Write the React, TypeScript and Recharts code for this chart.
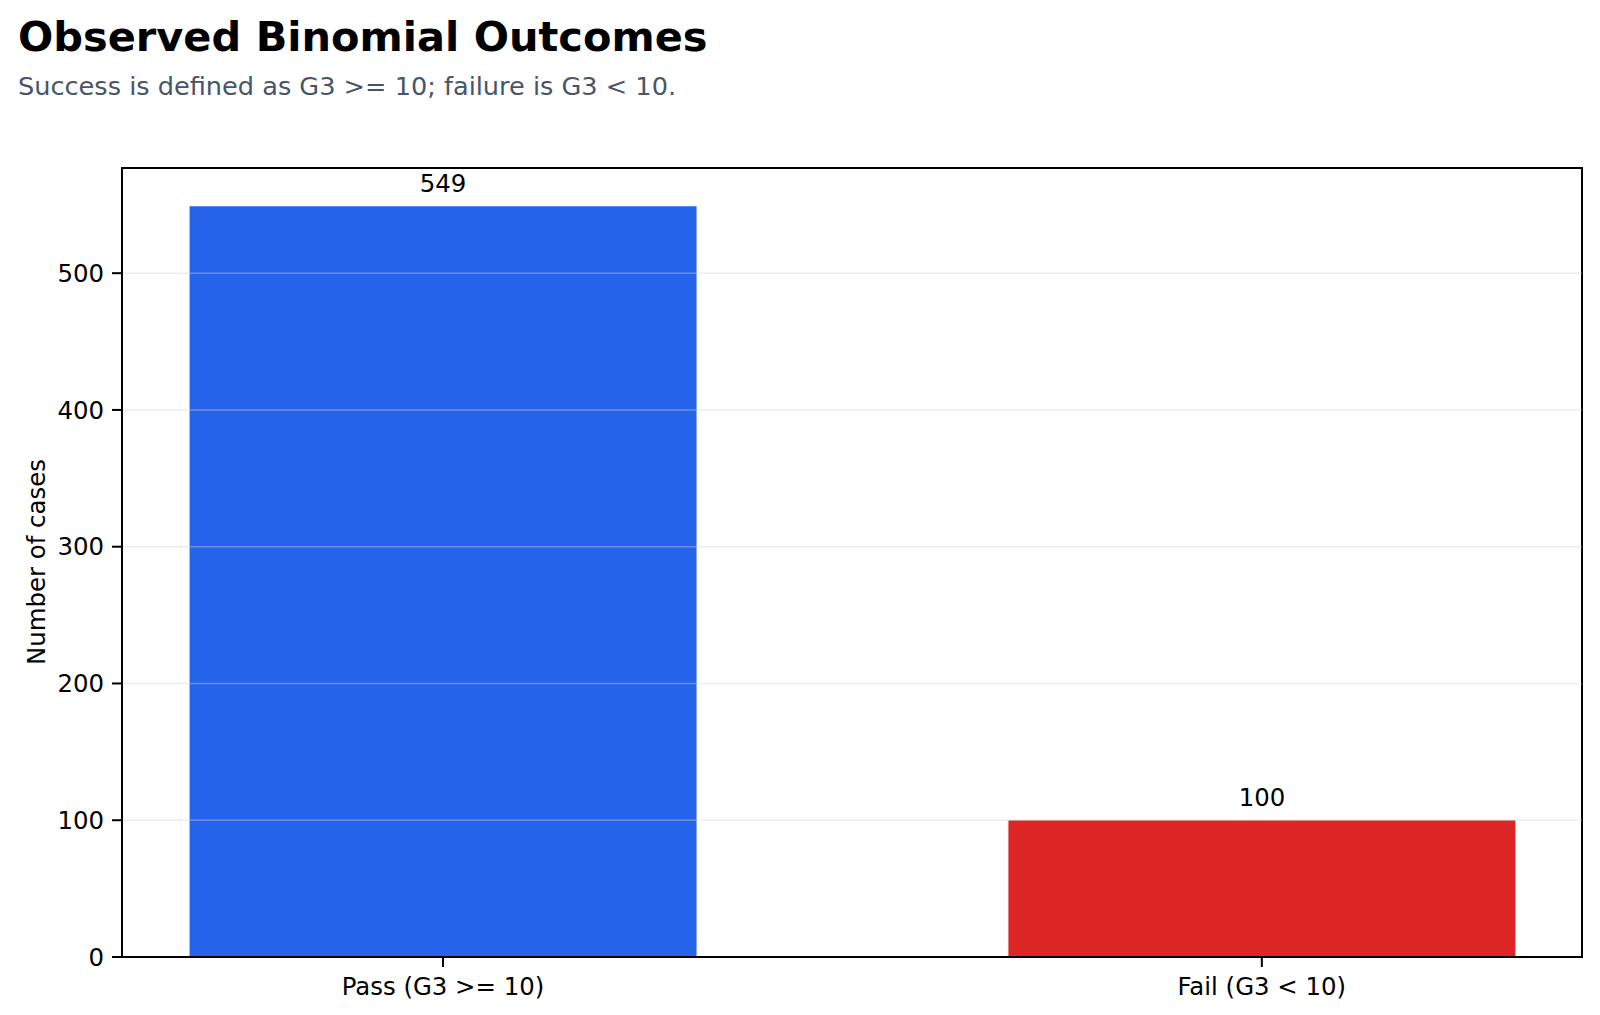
import { Bar, BarChart, Cell, LabelList, ReferenceArea, ReferenceLine, XAxis, YAxis } from 'recharts'

const categories = ['Pass (G3 >= 10)', 'Fail (G3 < 10)']
const counts = [549, 100]
const barColors = ['#2563eb', '#dc2626']
const yTicks = [0, 100, 200, 300, 400, 500]
const gridTicks = [100, 200, 300, 400, 500]

const X_DOMAIN: [number, number] = [-0.392, 1.391]
const Y_DOMAIN: [number, number] = [0, 576.9]

const data = categories.map((label, i) => ({ idx: i, label, count: counts[i], color: barColors[i] }))

const FONT = '"DejaVu Sans", sans-serif'
const tickStyle = { fontSize: 24.4, fill: '#000', fontFamily: FONT }

export default function App() {
  return (
    <div style={{ position: 'absolute', left: 0, top: 0, width: 1600, height: 1015, background: '#fff' }}>
      <BarChart
        width={1600}
        height={1015}
        data={data}
        margin={{ top: 168, right: 18, bottom: 0, left: 22 }}
      >
        <XAxis
          type="number"
          dataKey="idx"
          domain={X_DOMAIN}
          ticks={[0, 1]}
          tickFormatter={(v: number) => categories[v] ?? ''}
          height={58}
          tick={tickStyle}
          tickSize={10}
          tickMargin={11}
          tickLine={{ stroke: '#000', strokeWidth: 2 }}
          axisLine={{ stroke: '#000', strokeWidth: 2 }}
          allowDataOverflow
        />
        <YAxis
          domain={Y_DOMAIN}
          ticks={yTicks}
          width={100}
          tick={tickStyle}
          tickSize={10}
          tickMargin={8}
          tickLine={{ stroke: '#000', strokeWidth: 2 }}
          axisLine={{ stroke: '#000', strokeWidth: 2 }}
          allowDataOverflow
        />
        <Bar dataKey="count" barSize={507} isAnimationActive={false}>
          {data.map((d) => (
            <Cell key={d.label} fill={d.color} />
          ))}
          <LabelList dataKey="count" position="top" offset={14} style={{ fontSize: 24.4, fill: '#000', fontFamily: FONT }} />
        </Bar>
        {gridTicks.map((t) => (
          <ReferenceLine key={t} y={t} stroke="#d1d5db" strokeOpacity={0.4} strokeWidth={1.5} />
        ))}
        <ReferenceArea
          x1={X_DOMAIN[0]}
          x2={X_DOMAIN[1]}
          y1={Y_DOMAIN[0]}
          y2={Y_DOMAIN[1]}
          fill="none"
          fillOpacity={0}
          stroke="#000"
          strokeWidth={2}
          strokeOpacity={1}
        />
      </BarChart>
      <svg width={1600} height={1015} style={{ position: 'absolute', left: 0, top: 0, pointerEvents: 'none' }}>
        <text x={18} y={51} fontFamily={FONT} fontSize={41.5} fontWeight="bold" fill="#000">
          Observed Binomial Outcomes
        </text>
        <text x={18} y={95} fontFamily={FONT} fontSize={25.6} fill="#475569">
          Success is defined as G3 &gt;= 10; failure is G3 &lt; 10.
        </text>
        <text
          x={45}
          y={562}
          fontFamily={FONT}
          fontSize={24.4}
          fill="#000"
          textAnchor="middle"
          transform="rotate(-90, 45, 562)"
        >
          Number of cases
        </text>
      </svg>
    </div>
  )
}
